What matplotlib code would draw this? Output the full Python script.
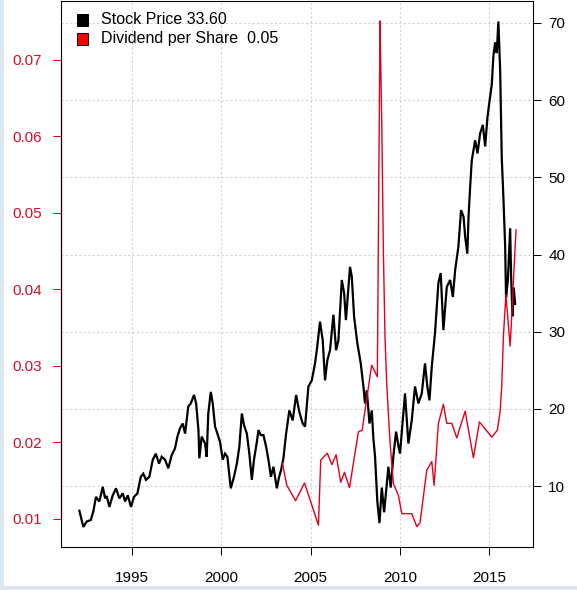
import matplotlib
matplotlib.use("Agg")
import matplotlib.pyplot as plt
from matplotlib.patches import Rectangle

plt.rcParams["font.family"] = ["Liberation Sans", "DejaVu Sans"]

RED = "#E3001B"; RED_TXT = "#D0102A"; GRID = "#D3D3D3"; BORDER = "#DCE6F2"

# stock price (right axis)
price_years = [1992.05, 1992.27, 1992.46, 1992.69, 1992.83, 1992.98, 1993.17, 1993.36, 1993.49, 1993.58,
               1993.73, 1993.92, 1994.10, 1994.29, 1994.48, 1994.61, 1994.76, 1994.94, 1995.11, 1995.30,
               1995.49, 1995.63, 1995.78, 1995.97, 1996.16, 1996.33, 1996.51, 1996.66, 1996.85, 1997.03,
               1997.22, 1997.41, 1997.54, 1997.69, 1997.84, 1997.97, 1998.15, 1998.29, 1998.47, 1998.59,
               1998.72, 1998.77, 1998.90, 1999.09, 1999.18, 1999.27, 1999.41, 1999.52, 1999.65, 1999.78,
               1999.93, 2000.08, 2000.21, 2000.34, 2000.53, 2000.71, 2000.87, 2001.01, 2001.15, 2001.27,
               2001.43, 2001.57, 2001.71, 2001.83, 2001.99, 2002.08, 2002.21, 2002.36, 2002.51, 2002.64,
               2002.78, 2002.92, 2003.01, 2003.11, 2003.24, 2003.35, 2003.48, 2003.63, 2003.81, 2004.00,
               2004.19, 2004.37, 2004.56, 2004.69, 2004.88, 2005.07, 2005.25, 2005.35, 2005.53, 2005.68,
               2005.81, 2005.94, 2006.09, 2006.28, 2006.43, 2006.56, 2006.75, 2006.88, 2006.98, 2007.21,
               2007.31, 2007.44, 2007.62, 2007.81, 2007.96, 2008.05, 2008.15, 2008.30, 2008.43, 2008.52,
               2008.61, 2008.74, 2008.86, 2008.99, 2009.12, 2009.23, 2009.36, 2009.49, 2009.64, 2009.79,
               2009.92, 2010.01, 2010.20, 2010.29, 2010.48, 2010.67, 2010.85, 2011.04, 2011.23, 2011.41,
               2011.54, 2011.66, 2011.79, 2011.97, 2012.16, 2012.29, 2012.44, 2012.63, 2012.82, 2012.97,
               2013.10, 2013.28, 2013.43, 2013.57, 2013.66, 2013.78, 2013.85, 2013.94, 2014.03, 2014.22,
               2014.35, 2014.50, 2014.65, 2014.78, 2014.91, 2015.02, 2015.15, 2015.24, 2015.34, 2015.43,
               2015.52, 2015.62, 2015.71, 2015.80, 2015.90, 2015.95, 2016.05, 2016.18, 2016.23, 2016.31,
               2016.38, 2016.46]
price_values = [6.8, 4.7, 5.4, 5.6, 6.7, 8.6, 8.0, 9.9, 8.4, 8.7,
                7.3, 8.8, 9.7, 8.4, 9.05, 8.0, 8.8, 7.3, 8.6, 9.05,
                11.2, 11.6, 10.8, 11.2, 13.4, 14.2, 12.9, 13.8, 13.4, 12.3,
                14.0, 14.9, 16.4, 17.5, 18.1, 16.8, 20.3, 20.7, 21.8, 20.7,
                17.25, 13.6, 16.4, 15.5, 13.8, 19.4, 22.2, 20.7, 17.7, 16.8,
                15.7, 13.4, 14.2, 13.8, 9.7, 11.2, 12.9, 15.1, 19.4, 17.9,
                16.8, 14.2, 10.8, 13.4, 15.7, 17.25, 16.6, 16.6, 15.1, 13.4,
                11.2, 12.5, 11.2, 9.7, 11.2, 12.1, 13.6, 16.8, 19.8, 18.5,
                21.8, 19.6, 18.1, 17.7, 22.9, 23.7, 25.9, 27.6, 31.3, 28.9,
                23.7, 26.3, 27.6, 32.2, 27.6, 28.9, 36.7, 35.0, 31.5, 38.4,
                37.1, 31.9, 28.5, 25.9, 22.9, 20.7, 22.4, 18.1, 19.8, 16.1,
                13.9, 8.0, 5.2, 9.8, 6.6, 9.35, 12.5, 9.8, 13.9, 17.05,
                15.2, 14.2, 19.4, 22.0, 15.5, 18.55, 22.9, 20.7, 22.0, 25.9,
                22.9, 21.1, 25.5, 29.8, 36.3, 37.6, 30.2, 35.8, 36.7, 34.5,
                38.0, 41.0, 45.75, 44.9, 42.3, 40.1, 44.9, 48.8, 52.2, 54.8,
                53.1, 55.7, 56.8, 54.0, 57.8, 59.8, 62.0, 65.7, 67.5, 66.1,
                70.2, 63.9, 52.5, 47.5, 41.1, 34.4, 36.6, 43.4, 37.5, 32.0,
                35.7, 33.6]

# dividend per share (left axis)
div_years = [2003.42, 2003.67, 2004.16, 2004.66, 2005.44, 2005.57, 2005.94, 2006.19, 2006.43, 2006.69,
             2006.90, 2007.18, 2007.68, 2007.89, 2008.42, 2008.74, 2008.89, 2008.93, 2008.99, 2009.08,
             2009.17, 2009.27, 2009.45, 2009.64, 2009.92, 2010.11, 2010.67, 2010.95, 2011.13, 2011.51,
             2011.79, 2011.92, 2012.16, 2012.44, 2012.63, 2012.91, 2013.19, 2013.66, 2014.12, 2014.46,
             2015.15, 2015.46, 2015.62, 2015.71, 2015.80, 2015.94, 2016.18, 2016.31, 2016.40, 2016.51]
div_values = [0.0173, 0.0144, 0.0124, 0.0147, 0.0092, 0.0177, 0.0186, 0.0171, 0.0184, 0.0148,
              0.0161, 0.0141, 0.0214, 0.0216, 0.0301, 0.0286, 0.0751, 0.0696, 0.0614, 0.0448,
              0.0338, 0.0274, 0.0201, 0.0146, 0.0131, 0.0107, 0.0107, 0.0090, 0.0095, 0.0164,
              0.0175, 0.0144, 0.0225, 0.0250, 0.0225, 0.0225, 0.0206, 0.0241, 0.0180, 0.0227,
              0.0207, 0.0216, 0.0241, 0.0274, 0.0338, 0.0393, 0.0326, 0.0384, 0.0429, 0.0478]

year_ticks = [1995, 2000, 2005, 2010, 2015]
price_ticks = [10, 20, 30, 40, 50, 60, 70]
div_ticks = [0.01, 0.02, 0.03, 0.04, 0.05, 0.06, 0.07]
legend_labels = ["Stock Price 33.60", "Dividend per Share  0.05"]

W, H = 577, 590
fig = plt.figure(figsize=(W/100, H/100), dpi=100)
fig.patch.set_facecolor("white")

# light blue frame strips of the screenshot
fig.add_artist(Rectangle((0, 0), 4/W, 1, transform=fig.transFigure, color=BORDER, lw=0))
fig.add_artist(Rectangle((0, 0), 1, 4/H, transform=fig.transFigure, color=BORDER, lw=0))

ax = fig.add_axes([61/W, 43/H, 472/W, 546/H])
ax2 = ax.twinx()

ax.set_xlim(1991.02, 2017.46)
ax.set_ylim(2.10, 72.85)
ax.set_xticks(year_ticks)
ax.set_yticks(price_ticks)
ax.grid(True, color=GRID, linestyle=(0, (2, 2)), lw=0.8)
ax.set_axisbelow(True)
ax.plot(price_years, price_values, color="black", lw=1.6, solid_joinstyle="miter")
ax.tick_params(axis="both", length=6, width=0.75, labelsize=11, colors="black")
ax.tick_params(axis="x", pad=11)
ax.tick_params(axis="y", pad=5, left=False, labelleft=False, right=True, labelright=True)

ax2.set_ylim(0.00634, 0.07771)
ax2.set_yticks(div_ticks)
ax2.set_yticklabels([f"{v:.2f}" for v in div_ticks])
ax2.tick_params(axis="y", length=6, width=0.75, labelsize=11, colors=RED, labelcolor=RED_TXT, pad=8,
                left=True, labelleft=True, right=False, labelright=False)
ax2.plot(div_years, div_values, color=RED, lw=1.0)
for a in (ax, ax2):
    for s in a.spines.values():
        s.set_color("black"); s.set_linewidth(0.75)
ax2.plot([1991.02, 1991.02], [0.01, 0.07], color=RED, lw=0.9, clip_on=False)

# legend (filled squares, no box)
for i, (lab, col) in enumerate(zip(legend_labels, ["black", "#FF0000"])):
    yc = 20 + i*19
    fig.add_artist(Rectangle((77/W, 1 - (yc+5.5)/H), 11/W, 11/H, transform=fig.transFigure,
                             facecolor=col, edgecolor="black", lw=0.7))
    fig.text(101/W, 1 - yc/H, lab, ha="left", va="center", fontsize=11.5)

fig.savefig("out.png", dpi=100, facecolor="white")
